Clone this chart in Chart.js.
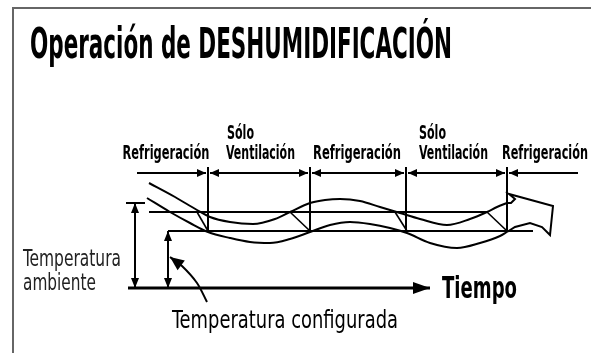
<!DOCTYPE html>
<html><head><meta charset="utf-8">
<script src="https://cdn.jsdelivr.net/npm/chart.js@4.4.1/dist/chart.umd.min.js"></script>
<style>html,body{margin:0;padding:0;background:#fff}#wrap{width:591px;height:358px;position:relative}</style>
</head><body><div id="wrap"><canvas id="c"></canvas></div>
<script>
// ---- data (time on x, temperature on y, schematic units) ----
const phaseLabels = ['Refrigeración', 'Sólo Ventilación', 'Refrigeración', 'Sólo Ventilación', 'Refrigeración'];
const phaseChanges = [208, 310, 406, 507];
const phaseSpan = [137, 578];
const phaseTop = [185, 191];

const upperTime = [149,175,197,210,230,253,275,290,310,325,340,360,380,400,420,447,470,487,497,507];
const upperTemp = [175,161,148,141,136,134,139,146,155,158,159,157,151,145,139,133,139,146,151,155];
const lowerTime = [147,170,190,208,230,250,270,290,310,330,350,370,390,407,430,457,480,500,507];
const lowerTemp = [160,146,135,126,120,116,115,119,126,133,136,134,130,125,115,110,115,122,126];
const tipTime = [507,515,530,542,550,553,509,515,511,507];
const tipTemp = [126,131,135,131,123,152,164,159,155,155];

const ambientTemp = 146, ambientSpan = [149, 487];
const setpointTemp = 127, setpointSpan = [168, 533];
const baseTemp = 70, timeSpan = [128, 430];
const ambientMark = {time: 135, top: 155, cap: [126, 145]};
const crossUpper = [197, 290, 395, 487];
const crossLower = [208, 310, 407, 507];
const pointerTime = [207, 197, 182, 170];
const pointerTemp = [56, 75, 92, 101];
const frameTime = [13, 13, 591];
const frameTemp = [5, 350, 350];

// ---- text annotations (layout) ----
const FAM = '"Liberation Sans Narrow", "DejaVu Sans Condensed", "DejaVu Sans", sans-serif';
const texts = [
  {t:'Operación de DESHUMIDIFICACIÓN', x:30, y:300, w:422, size:43, weight:'bold', align:'left'},
  {t:'Refrigeración', x:166, y:199, w:87, size:19, weight:'bold', align:'center'},
  {t:'Sólo', x:227, y:219, w:27, size:19, weight:'bold', align:'left'},
  {t:'Ventilación', x:226, y:199, w:69, size:19, weight:'bold', align:'left'},
  {t:'Refrigeración', x:357, y:199, w:88, size:19, weight:'bold', align:'center'},
  {t:'Sólo', x:419, y:219, w:27, size:19, weight:'bold', align:'left'},
  {t:'Ventilación', x:419, y:199, w:69, size:19, weight:'bold', align:'left'},
  {t:'Refrigeración', x:545, y:199, w:86, size:19, weight:'bold', align:'center'},
  {t:'Temperatura', x:23, y:92, w:98, size:23, weight:'normal', align:'left', color:'#222'},
  {t:'ambiente', x:23, y:68, w:73, size:23, weight:'normal', align:'left', color:'#222'},
  {t:'Tiempo', x:442, y:60, w:75, size:30, weight:'bold', align:'left'},
  {t:'Temperatura configurada', x:172, y:30, w:226, size:24, weight:'normal', align:'left'}
];

const zip = (xs, ys) => xs.map((x, i) => ({x, y: ys[i]}));
const line = (pts, o = {}) => Object.assign({data: pts, borderColor:'#000', borderWidth:2, pointRadius:0, tension:0, fill:false}, o);

const datasets = [];
datasets.push(line(zip(frameTime, frameTemp), {borderColor:'#666', borderWidth:2}));
// phase line with arrows
const bounds = [phaseSpan[0], ...phaseChanges, phaseSpan[1]];
for (let i = 0; i < phaseLabels.length; i++) {
  const s = i === 0 ? bounds[i] : bounds[i] + 2;
  const e = i === phaseLabels.length - 1 ? bounds[i+1] : bounds[i+1] - 2;
  datasets.push(line([{x:s, y:phaseTop[0]}, {x:e, y:phaseTop[0]}], {
    arrowStart: i > 0 ? [9, 4] : null, arrowEnd: i < phaseLabels.length - 1 ? [9, 4] : null}));
}
phaseChanges.forEach(t => datasets.push(line([{x:t, y:phaseTop[1]}, {x:t, y:setpointTemp}])));
datasets.push(line([{x:ambientSpan[0], y:ambientTemp}, {x:ambientSpan[1], y:ambientTemp}]));
datasets.push(line([{x:setpointSpan[0], y:setpointTemp}, {x:setpointSpan[1], y:setpointTemp}]));
crossUpper.forEach((t, i) => datasets.push(line([{x:t, y:ambientTemp}, {x:crossLower[i], y:setpointTemp}], {borderWidth:1.6})));
datasets.push(line(zip(upperTime, upperTemp), {tension:0.4, cubicInterpolationMode:'monotone'}));
datasets.push(line(zip(lowerTime, lowerTemp), {tension:0.4, cubicInterpolationMode:'monotone'}));
datasets.push(line(zip(tipTime, tipTemp), {borderJoinStyle:'miter'}));
datasets.push(line([{x:timeSpan[0], y:baseTemp}, {x:timeSpan[1], y:baseTemp}], {borderWidth:3, arrowEnd:[17, 6]}));
datasets.push(line([{x:ambientMark.cap[0], y:ambientMark.top}, {x:ambientMark.cap[1], y:ambientMark.top}]));
datasets.push(line([{x:ambientMark.time, y:baseTemp}, {x:ambientMark.time, y:ambientMark.top}], {arrowStart:[10,4], arrowEnd:[10,4]}));
datasets.push(line([{x:setpointSpan[0], y:baseTemp}, {x:setpointSpan[0], y:setpointTemp}], {arrowStart:[10,4], arrowEnd:[10,4]}));
datasets.push(line(zip(pointerTime, pointerTemp), {tension:0.3, arrowEnd:[14, 6]}));

const arrowPlugin = {
  id: 'arrows',
  afterDatasetsDraw(chart) {
    const ctx = chart.ctx;
    chart.data.datasets.forEach((ds, i) => {
      const pts = chart.getDatasetMeta(i).data;
      if (!pts || pts.length < 2) return;
      const draw = (tip, from, len, half) => {
        const dx = tip.x - from.x, dy = tip.y - from.y, d = Math.hypot(dx, dy);
        const ux = dx / d, uy = dy / d;
        ctx.save();
        ctx.beginPath();
        ctx.moveTo(tip.x, tip.y);
        ctx.lineTo(tip.x - ux * len - uy * half, tip.y - uy * len + ux * half);
        ctx.lineTo(tip.x - ux * len + uy * half, tip.y - uy * len - ux * half);
        ctx.closePath();
        ctx.fillStyle = '#000';
        ctx.fill();
        ctx.restore();
      };
      if (ds.arrowEnd) draw(pts[pts.length - 1], pts[pts.length - 2], ...ds.arrowEnd);
      if (ds.arrowStart) draw(pts[0], pts[1], ...ds.arrowStart);
    });
  }
};

const textPlugin = {
  id: 'texts',
  afterDraw(chart) {
    const ctx = chart.ctx, xs = chart.scales.x, ys = chart.scales.y;
    texts.forEach(o => {
      ctx.save();
      ctx.font = `${o.weight} ${o.size}px ${FAM}`;
      ctx.textAlign = 'left';
      ctx.textBaseline = 'alphabetic';
      ctx.fillStyle = o.color || '#000';
      const left = o.align === 'center' ? o.x - o.w / 2 : o.x;
      const px = xs.getPixelForValue(left);
      const wpx = xs.getPixelForValue(left + o.w) - px;
      const m = ctx.measureText(o.t).width;
      ctx.translate(px, ys.getPixelForValue(o.y));
      ctx.scale(wpx / m, 1);
      ctx.fillText(o.t, 0, 0);
      ctx.restore();
    });
  }
};

new Chart(document.getElementById('c'), {
  type: 'line',
  data: {datasets},
  options: {
    responsive: true, maintainAspectRatio: false, animation: false,
    layout: {padding: 0},
    plugins: {legend: {display: false}, tooltip: {enabled: false}},
    elements: {line: {capBezierPoints: true}},
    datasets: {line: {clip: false}},
    scales: {
      x: {type: 'linear', min: 0, max: 591, display: false},
      y: {type: 'linear', min: 0, max: 358, display: false}
    }
  },
  plugins: [arrowPlugin, textPlugin]
});
</script></body></html>
